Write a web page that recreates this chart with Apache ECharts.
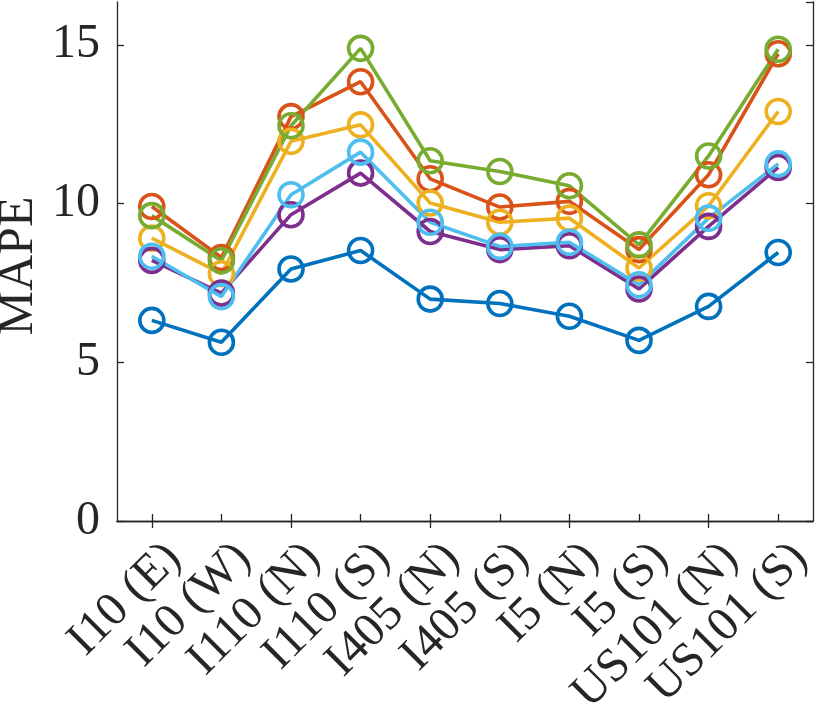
<!DOCTYPE html>
<html>
<head>
<meta charset="utf-8">
<style>
  html, body { margin: 0; padding: 0; background: #fff; }
  #chart-container { width: 830px; height: 726px; }
</style>
<script src="https://cdn.jsdelivr.net/npm/echarts@6/dist/echarts.min.js"></script>
</head>
<body>
<div id="chart-container"></div>
<script>
var categories = ['I10 (E)', 'I10 (W)', 'I110 (N)', 'I110 (S)', 'I405 (N)', 'I405 (S)', 'I5 (N)', 'I5 (S)', 'US101 (N)', 'US101 (S)'];

// MAPE per road, one array per method (MATLAB default colour order)
var seriesBlue   = [6.32, 5.63, 7.94, 8.52, 6.99, 6.85, 6.45, 5.69, 6.76, 8.46];
var seriesOrange = [9.91, 8.30, 12.74, 13.84, 10.78, 9.89, 10.07, 8.55, 10.91, 14.72];
var seriesYellow = [8.91, 7.79, 11.96, 12.48, 10.02, 9.41, 9.54, 7.97, 9.93, 12.90];
var seriesPurple = [8.21, 7.18, 9.65, 10.96, 9.12, 8.55, 8.67, 7.31, 9.28, 11.14];
var seriesGreen  = [9.62, 8.20, 12.45, 14.89, 11.35, 11.01, 10.56, 8.70, 11.50, 14.86];
var seriesCyan   = [8.34, 7.07, 10.28, 11.62, 9.41, 8.65, 8.78, 7.44, 9.54, 11.25];

var yName = 'MAPE';
var yMin = 0;
var yMax = 16.35;
var yStep = 5;

var colors = ['#0072BD', '#D95319', '#EDB120', '#7E2F8E', '#77AC30', '#4DBEEE'];
var allSeries = [seriesBlue, seriesOrange, seriesYellow, seriesPurple, seriesGreen, seriesCyan];

var dom = document.getElementById('chart-container');
var myChart = echarts.init(dom, null, { renderer: 'canvas' });

var fontFamily = "'Liberation Serif', 'Times New Roman', serif";
var axisColor = '#262626';

var option = {
  animation: false,
  grid: { left: 117, right: 17, top: 2, bottom: 205, outerBoundsMode: 'none', containLabel: false },
  // y axis title drawn as rotated text, MATLAB style
  graphic: [
    {
      type: 'text',
      x: 19,
      y: 266,
      rotation: Math.PI / 2,
      style: {
        text: yName,
        font: '50px ' + fontFamily,
        fill: axisColor,
        align: 'center',
        verticalAlign: 'middle'
      }
    }
  ],
  xAxis: [
    {
      type: 'category',
      data: categories,
      boundaryGap: true,
      axisLine: { show: true, lineStyle: { color: axisColor, width: 1.3 } },
      axisTick: { show: true, inside: true, length: 7, alignWithLabel: true, lineStyle: { color: axisColor, width: 1.3 } },
      axisLabel: {
        rotate: 45,
        interval: 0,
        margin: 8,
        fontFamily: fontFamily,
        fontSize: 48,
        color: axisColor,
        verticalAlign: 'top',
        padding: [7, 0, 0, 0]
      },
      splitLine: { show: false }
    },
    {
      type: 'category',
      data: categories,
      position: 'top',
      boundaryGap: true,
      axisLine: { show: true, lineStyle: { color: axisColor, width: 1.3 } },
      axisTick: { show: true, inside: true, length: 7, alignWithLabel: true, lineStyle: { color: axisColor, width: 1.3 } },
      axisLabel: { show: false },
      splitLine: { show: false }
    }
  ],
  yAxis: [
    {
      type: 'value',
      min: yMin,
      max: yMax,
      interval: yStep,
      axisLine: { show: true, lineStyle: { color: axisColor, width: 1.3 } },
      axisTick: { show: true, inside: true, length: 7, lineStyle: { color: axisColor, width: 1.3 } },
      axisLabel: {
        margin: 17,
        fontFamily: fontFamily,
        fontSize: 48,
        color: axisColor,
        showMaxLabel: false
      },
      splitLine: { show: false }
    },
    {
      type: 'value',
      position: 'right',
      min: yMin,
      max: yMax,
      interval: yStep,
      axisLine: { show: true, lineStyle: { color: axisColor, width: 1.3 } },
      axisTick: { show: true, inside: true, length: 7, lineStyle: { color: axisColor, width: 1.3 } },
      axisLabel: { show: false },
      splitLine: { show: false }
    }
  ],
  series: allSeries.map(function (values, i) {
    return {
      type: 'line',
      data: values,
      symbol: 'circle',
      symbolSize: 24,
      showAllSymbol: true,
      lineStyle: { color: colors[i], width: 3.6 },
      itemStyle: { color: 'rgba(0,0,0,0)', borderColor: colors[i], borderWidth: 3.6 },
      emphasis: { disabled: true }
    };
  })
};

myChart.setOption(option);
window.addEventListener('resize', myChart.resize);
</script>
</body>
</html>
